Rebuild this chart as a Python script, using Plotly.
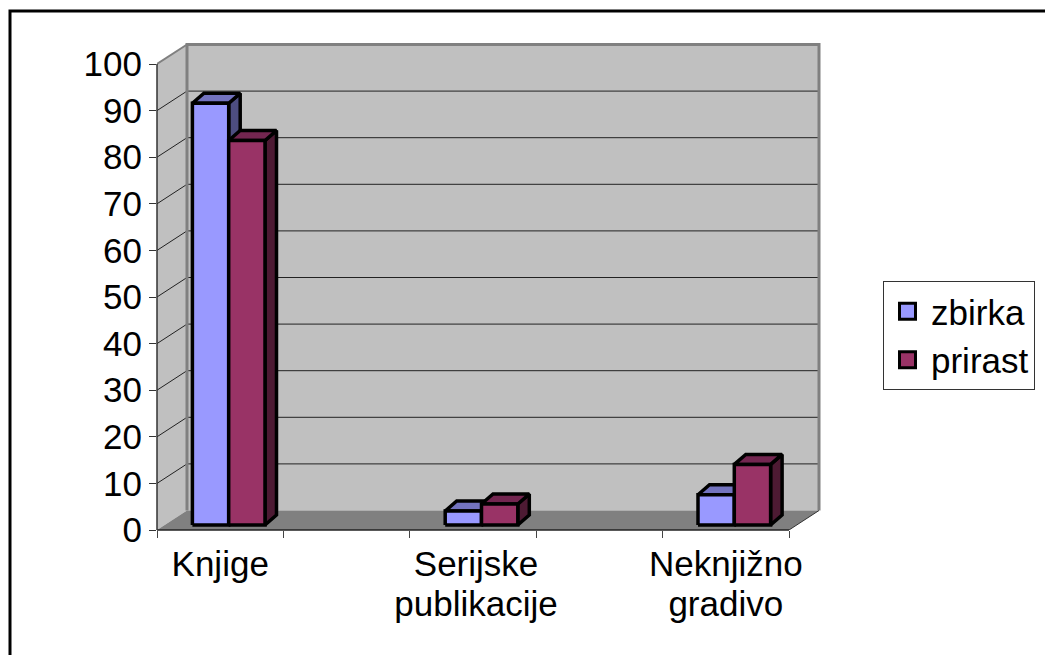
import plotly.graph_objects as go

# Values
labels_line1 = ["Knjige", "Serijske", "Neknjižno"]
labels_line2 = ["", "publikacije", "gradivo"]
category_pos = [0, 2, 4]
label_pos = [0, 2.024, 4]
boundaries = [-0.5, 0.5, 1.5, 2.5, 3.5, 4.5]
zbirka = [90.5, 3, 6.5]
prirast = [82.5, 4.5, 13]

W, H = 1045, 655
FONT = "Liberation Sans"
FS = 35

# Pixel calibration of the axes
PX_X0, PX_CAT = 157, 126.4
PX_Y0, PX_UNIT = 530, 4.66
PX_RIGHT, PX_TOP = 821, 42

# Depth of the box and of the bars, in data units
DX, DY = 30 / PX_CAT, 19.5 / PX_UNIT
BAR_W = 36.3 / PX_CAT
BAR_SHIFT_X, BAR_BASE = 8.5 / PX_CAT, 5 / PX_UNIT
BAR_DX, BAR_DY = 11.5 / PX_CAT, 10 / PX_UNIT

WALL = "#C0C0C0"
FLOOR = "#808080"
EDGE = "#808080"


def poly(points):
    return "M" + "L".join(f"{x},{y}" for x, y in points) + "Z"


XL, XR = boundaries[0], boundaries[-1]
shapes = [
    # side wall, back wall, floor
    dict(type="path", path=poly([(XL, 0), (XL + DX, DY), (XL + DX, 100 + DY), (XL, 100)]),
         fillcolor=WALL, line=dict(width=0), layer="below"),
    dict(type="path", path=poly([(XL + DX, DY), (XR + DX, DY), (XR + DX, 100 + DY), (XL + DX, 100 + DY)]),
         fillcolor=WALL, line=dict(width=0), layer="below"),
    dict(type="path", path=poly([(XL, 0), (XR, 0), (XR + DX, DY), (XL + DX, DY)]),
         fillcolor=FLOOR, line=dict(width=0), layer="below"),
]
# gridlines on side and back wall
for v in range(10, 100, 10):
    shapes.append(dict(type="path", path=f"M{XL},{v}L{XL + DX},{v + DY}L{XR + DX},{v + DY}",
                       line=dict(color="#222222", width=1), layer="below"))
# outline of the back wall
shapes.append(dict(type="path",
                   path=f"M{XL + DX},{DY}L{XL + DX},{100 + DY}L{XR + DX},{100 + DY}L{XR + DX},{DY}",
                   line=dict(color=EDGE, width=3), layer="below"))
shapes.append(dict(type="path", path=f"M{XL},{100}L{XL + DX},{100 + DY}",
                   line=dict(color=EDGE, width=2), layer="below"))
shapes.append(dict(type="path", path=f"M{XR},0L{XR + DX},{DY}",
                   line=dict(color="#333333", width=1), layer="below"))
# axis lines
shapes.append(dict(type="line", xref="x", yref="y domain", x0=XL, x1=XR, y0=0, y1=0,
                   line=dict(color="#222222", width=1.5)))
shapes.append(dict(type="line", xref="x domain", yref="y", x0=0, x1=0, y0=0, y1=100,
                   line=dict(color="#333333", width=1.5)))
# outer frame, cut off by the right and bottom picture edge
shapes.append(dict(type="path", xref="paper", yref="paper",
                   path=f"M{10 / W},0L{10 / W},{1 - 11 / H}L1,{1 - 11 / H}",
                   line=dict(color="black", width=3)))


def faces(values, left_offset):
    side_x, side_y, top_x, top_y, front_x, front_y = [], [], [], [], [], []
    for pos, v in zip(category_pos, values):
        x0 = pos + BAR_SHIFT_X + left_offset
        x1 = x0 + BAR_W
        y0, y1 = BAR_BASE, BAR_BASE + v
        front_x += [x0, x1, x1, x0, x0, None]
        front_y += [y0, y0, y1, y1, y0, None]
        top_x += [x0, x1, x1 + BAR_DX, x0 + BAR_DX, x0, None]
        top_y += [y1, y1, y1 + BAR_DY, y1 + BAR_DY, y1, None]
        side_x += [x1, x1 + BAR_DX, x1 + BAR_DX, x1, x1, None]
        side_y += [y0, y0 + BAR_DY, y1 + BAR_DY, y1, y0, None]
    return (side_x, side_y), (top_x, top_y), (front_x, front_y)


def add_series(fig, values, left_offset, colors):
    for (xs, ys), color in zip(faces(values, left_offset), colors):
        fig.add_trace(go.Scatter(x=xs, y=ys, mode="lines", fill="toself", fillcolor=color,
                                 line=dict(color="black", width=3.5), showlegend=False,
                                 hoverinfo="skip"))


fig = go.Figure()
add_series(fig, zbirka, -BAR_W, ["#4D4D80", "#7373BF", "#9999FF"])
add_series(fig, prirast, 0, ["#4D1A33", "#732650", "#993366"])

# legend entries
for name, color in [("zbirka", "#9999FF"), ("prirast", "#993366")]:
    fig.add_trace(go.Scatter(x=[None], y=[None], mode="markers", name=name,
                             marker=dict(symbol="square", size=20, color=color,
                                         line=dict(color="black", width=3))))

# invisible traces so the two label axes are drawn
for axis in ["x2", "x3"]:
    fig.add_trace(go.Scatter(x=label_pos, y=[0, 0, 0], xaxis=axis, mode="markers",
                             marker=dict(opacity=0), showlegend=False, hoverinfo="skip"))

x_domain = [PX_X0 / W, PX_RIGHT / W]
x_range = [XL, XL + (PX_RIGHT - PX_X0) / PX_CAT]
fig.update_layout(
    width=W, height=H,
    autosize=False,
    margin=dict(l=0, r=0, t=0, b=0, pad=0, autoexpand=False),
    paper_bgcolor="white",
    plot_bgcolor="white",
    font=dict(family=FONT, size=FS, color="black"),
    showlegend=True,
    legend=dict(x=883 / W, y=1 - 281 / H, xanchor="left", yanchor="top",
                bgcolor="white", bordercolor="#333333", borderwidth=1,
                itemwidth=37, entrywidth=122, entrywidthmode="pixels",
                font=dict(family=FONT, size=FS), tracegroupgap=0),
    xaxis=dict(domain=x_domain, range=x_range, tickmode="array", tickvals=boundaries,
               ticktext=[""] * len(boundaries), ticks="outside", ticklen=7, tickcolor="#444444",
               tickwidth=1, showgrid=False, zeroline=False, showline=False),
    xaxis2=dict(domain=x_domain, range=x_range, overlaying="x", anchor="y", side="bottom",
                tickmode="array", tickvals=label_pos, ticktext=labels_line1,
                ticks="outside", ticklen=3, tickcolor="rgba(0,0,0,0)", showgrid=False,
                zeroline=False, showline=False, tickfont=dict(family=FONT, size=FS)),
    xaxis3=dict(domain=x_domain, range=x_range, overlaying="x", anchor="y", side="bottom",
                tickmode="array", tickvals=label_pos, ticktext=labels_line2,
                ticks="outside", ticklen=43, tickcolor="rgba(0,0,0,0)", showgrid=False,
                zeroline=False, showline=False, tickfont=dict(family=FONT, size=FS)),
    yaxis=dict(domain=[1 - PX_Y0 / H, 1 - PX_TOP / H], range=[0, (PX_Y0 - PX_TOP) / PX_UNIT],
               tickmode="linear", tick0=0, dtick=10, ticks="outside", ticklen=7,
               tickcolor="#333333", tickwidth=1, showgrid=False, zeroline=False, showline=False,
               tickfont=dict(family=FONT, size=FS)),
    shapes=shapes,
)

fig.write_html("out.html", config={"displayModeBar": False},
               post_script="document.body.style.margin='0';")
